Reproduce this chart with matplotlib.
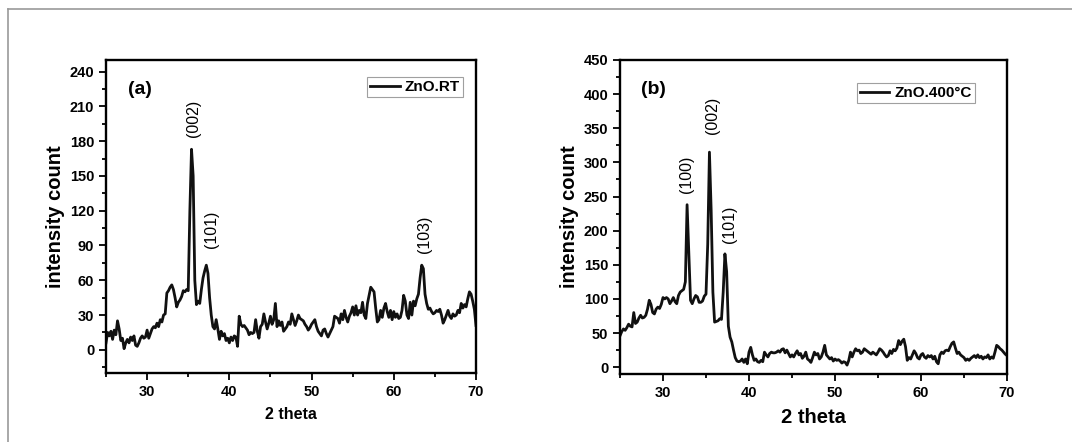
import numpy as np
import matplotlib
matplotlib.use("Agg")
import matplotlib.pyplot as plt
from matplotlib.lines import Line2D
from matplotlib.ticker import MultipleLocator

plt.rcParams['font.family'] = ['Liberation Sans', 'DejaVu Sans']

# 2 theta scan, 0.2 degree step
two_theta = np.arange(25.0, 70.0001, 0.2)

# ZnO as deposited (room temperature)
counts_rt = [
    6, 15, 12, 16, 9, 17, 13, 25, 18, 8,
    10, 1, 6, 9, 6, 11, 8, 12, 4, 3,
    6, 10, 12, 10, 11, 17, 10, 14, 18, 20,
    19, 23, 20, 26, 24, 30, 31, 49, 51, 54,
    56, 52, 45, 37, 41, 43, 46, 51, 50, 52,
    51, 120, 173, 150, 60, 39, 42, 40, 52, 62,
    68, 73, 66, 45, 30, 20, 18, 26, 18, 9,
    16, 12, 14, 8, 10, 6, 11, 8, 12, 11,
    3, 29, 22, 20, 21, 19, 17, 13, 15, 14,
    15, 26, 16, 10, 20, 22, 31, 24, 18, 23,
    29, 22, 26, 40, 20, 25, 21, 24, 16, 18,
    20, 24, 22, 31, 26, 21, 25, 30, 27, 26,
    25, 22, 20, 17, 19, 22, 24, 26, 20, 16,
    14, 12, 17, 18, 14, 11, 14, 17, 20, 29,
    28, 27, 23, 31, 26, 34, 28, 24, 29, 32,
    37, 30, 38, 30, 34, 32, 41, 30, 27, 40,
    47, 54, 52, 50, 36, 24, 26, 34, 28, 36,
    40, 33, 28, 34, 26, 33, 28, 31, 27, 28,
    34, 47, 42, 30, 27, 41, 30, 42, 38, 44,
    48, 62, 73, 70, 48, 40, 35, 36, 33, 31,
    32, 34, 33, 35, 30, 23, 26, 30, 34, 29,
    27, 31, 29, 30, 34, 32, 40, 36, 39, 37,
    44, 50, 48, 42, 35, 21,
]

# ZnO annealed at 400 C
counts_400 = [
    46, 52, 56, 54, 58, 63, 60, 59, 80, 64,
    66, 72, 76, 72, 73, 76, 85, 98, 92, 80,
    78, 85, 88, 86, 92, 102, 100, 102, 100, 93,
    97, 102, 96, 93, 105, 110, 112, 114, 125, 238,
    170, 98, 93, 100, 105, 103, 95, 95, 97, 104,
    107, 180, 315, 230, 110, 66, 67, 68, 71, 70,
    110, 166, 140, 60, 44, 37, 25, 14, 9, 8,
    9, 12, 7, 12, 5, 22, 29, 18, 10, 12,
    8, 7, 10, 8, 22, 18, 15, 20, 22, 21,
    21, 22, 24, 22, 26, 27, 21, 25, 20, 15,
    18, 15, 20, 24, 18, 20, 13, 16, 22, 12,
    10, 7, 14, 22, 18, 20, 12, 15, 22, 32,
    18, 15, 12, 14, 9, 12, 10, 11, 9, 6,
    8, 7, 3, 10, 22, 15, 22, 27, 24, 25,
    20, 22, 27, 25, 23, 21, 19, 22, 20, 18,
    22, 27, 25, 22, 18, 15, 17, 24, 20, 26,
    24, 28, 39, 33, 38, 41, 30, 10, 14, 12,
    18, 24, 20, 14, 12, 18, 20, 15, 13, 17,
    15, 17, 12, 16, 8, 5, 18, 22, 20, 24,
    25, 24, 30, 35, 37, 28, 20, 22, 18, 16,
    14, 10, 12, 10, 13, 15, 17, 14, 18, 14,
    16, 12, 15, 14, 18, 12, 15, 13, 22, 32,
    30, 27, 25, 22, 19, 17,
]

# peak labels: (text, 2theta, y of label centre)
peaks_rt = [("(002)", 35.6, 200), ("(101)", 37.8, 104), ("(103)", 63.7, 100)]
peaks_400 = [("(100)", 32.7, 282), ("(002)", 35.8, 369), ("(101)", 37.7, 210)]

fig = plt.figure(figsize=(10.72, 4.42), dpi=100)

# grey frame round the figure
fig.add_artist(Line2D([8 / 1072, 1], [1 - 9 / 442, 1 - 9 / 442], color='#999999', lw=1.2))
fig.add_artist(Line2D([8 / 1072, 8 / 1072], [0, 1 - 9 / 442], color='#999999', lw=1.2))

ax1 = fig.add_axes([106 / 1072, 1 - 373 / 442, 370 / 1072, 313 / 442])
ax2 = fig.add_axes([620 / 1072, 1 - 374 / 442, 387 / 1072, 314 / 442])


def style_axis(ax, ystep, yminor, xlabel_size):
    ax.set_xlim(25, 70)
    ax.xaxis.set_major_locator(MultipleLocator(10))
    ax.xaxis.set_minor_locator(MultipleLocator(5))
    ax.yaxis.set_major_locator(MultipleLocator(ystep))
    ax.yaxis.set_minor_locator(MultipleLocator(yminor))
    ax.tick_params(which='both', direction='out', top=False, right=False, width=1.3)
    ax.tick_params(which='major', length=5, labelsize=10.5)
    ax.tick_params(which='minor', length=3)
    for lab in ax.get_xticklabels() + ax.get_yticklabels():
        lab.set_fontweight('bold')
    for s in ax.spines.values():
        s.set_linewidth(1.7)
    ax.set_ylabel('intensity count', fontsize=14.5, fontweight='bold', labelpad=3)
    ax.set_xlabel('2 theta', fontsize=xlabel_size, fontweight='bold', labelpad=6)


def add_legend(ax, x_right, y_top):
    leg = ax.legend(loc='upper right', bbox_to_anchor=(x_right, y_top), borderaxespad=0,
                    fancybox=False, handlelength=1.9, handletextpad=0.35, borderpad=0.2,
                    prop={'weight': 'bold', 'size': 11})
    leg.get_frame().set_edgecolor('#888888')
    leg.get_frame().set_linewidth(0.8)


ax1.plot(two_theta, counts_rt, color='#111111', lw=2.0, label='ZnO.RT')
ax1.set_ylim(-20, 250)
style_axis(ax1, 30, 15, 11.5)
ax1.text(0.06, 0.905, '(a)', transform=ax1.transAxes, va='center', fontsize=14, fontweight='bold')
for txt, x, y in peaks_rt:
    ax1.text(x, y, txt, rotation=90, ha='center', va='center', fontsize=11.5)
add_legend(ax1, 0.965, 0.946)

ax2.plot(two_theta, counts_400, color='#111111', lw=2.0, label='ZnO.400\u00b0C')
ax2.set_ylim(-10, 450)
style_axis(ax2, 50, 25, 14.5)
ax2.text(0.055, 0.905, '(b)', transform=ax2.transAxes, va='center', fontsize=14, fontweight='bold')
for txt, x, y in peaks_400:
    ax2.text(x, y, txt, rotation=90, ha='center', va='center', fontsize=11.5)
add_legend(ax2, 0.917, 0.927)

fig.savefig('out.png', dpi=100)
